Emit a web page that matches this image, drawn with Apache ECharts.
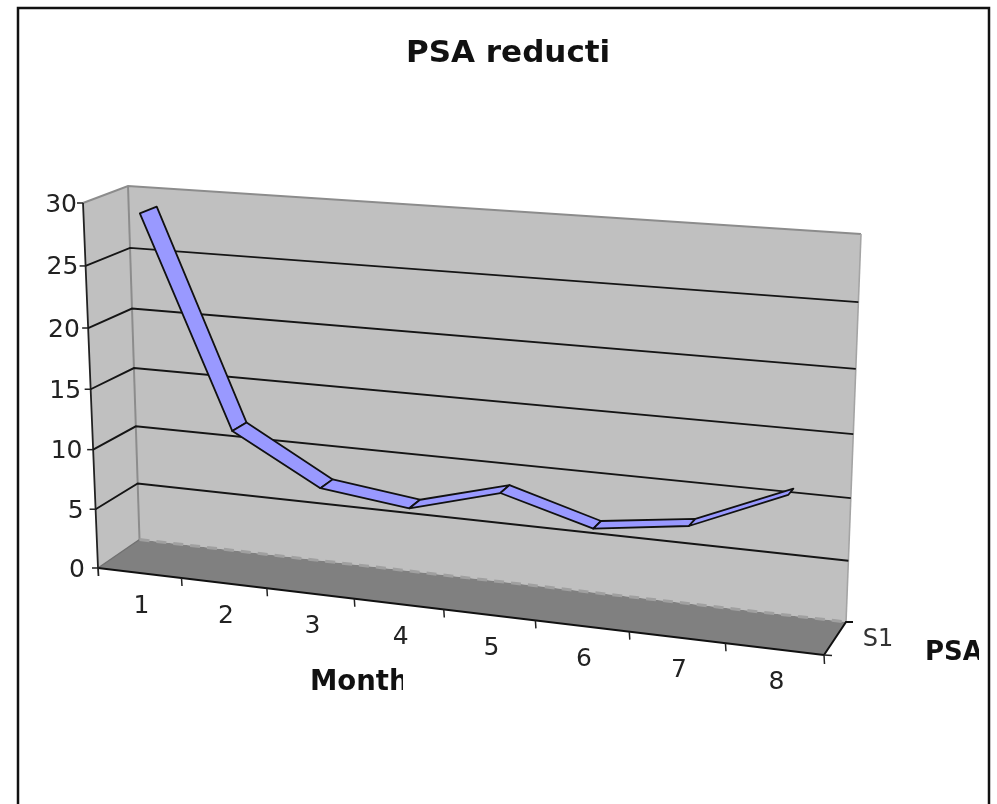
<!DOCTYPE html>
<html><head><meta charset="utf-8">
<style>html,body{margin:0;padding:0;background:#fff}#c{width:997px;height:804px}</style>
<script src="https://cdn.jsdelivr.net/npm/echarts@6/dist/echarts.min.js"></script>
</head><body><div id="c"></div>
<script>
const months = ['1','2','3','4','5','6','7','8'];
const psa = [29, 12, 8, 7.1, 9.1, 7, 8, 11.2];
const yTicks = [0,5,10,15,20,25,30];
const chartTitle = 'PSA reducti';
const xName = 'Month';
const yName = 'PSA';
const seriesName = 'S1';

const FONT = '"DejaVu Sans", sans-serif';
function makeH(q){
  const [x0,y0]=q[0],[x1,y1]=q[1],[x2,y2]=q[2],[x3,y3]=q[3];
  const dx1=x1-x2,dx2=x3-x2,sx=x0-x1+x2-x3,dy1=y1-y2,dy2=y3-y2,sy=y0-y1+y2-y3;
  const den=dx1*dy2-dx2*dy1;
  const g=(sx*dy2-dx2*sy)/den,h=(dx1*sy-sx*dy1)/den;
  const a=x1-x0+g*x1,b=x3-x0+h*x3,d=y1-y0+g*y1,e=y3-y0+h*y3;
  return (u,v)=>{const w=g*u+h*v+1;return [(a*u+b*v+x0)/w,(d*u+e*v+y0)/w];};
}
const front=makeH([[98,568],[824,655],[841,256],[83,203]]);
const back=makeH([[139.5,539.5],[846,622],[861,234],[128,186]]);
function P(u,v,z){
  const vb=v-0.025*v*(1-v);
  const f=front(u,v),b=back(u,vb);
  return [f[0]+(b[0]-f[0])*z,f[1]+(b[1]-f[1])*z];
}
function uv(pt,cs){return [(pt[0]-cs.x)/cs.width,(cs.y+cs.height-pt[1])/cs.height];}
const poly=(pts,style,z2)=>({type:'polygon',shape:{points:pts},style,z2:z2||0});
const line=(pts,stroke,lw,dash)=>({type:'polyline',shape:{points:pts},style:{stroke,lineWidth:lw,fill:'none',lineDash:dash||null}});
const text=(t,x,y,size,weight,align,fill,extra)=>Object.assign({type:'text',style:{text:t,x,y,fontFamily:FONT,fontSize:size,fontWeight:weight,align,verticalAlign:'middle',fill}},extra||{});

const shell=()=>({type:'group',children:[
  poly([P(0,0,1),P(1,0,1),P(1,1,1),P(0,1,1)],{fill:'#c0c0c0',stroke:'none'}),
  poly([P(0,0,0),P(0,0,1),P(0,1,1),P(0,1,0)],{fill:'#c0c0c0',stroke:'none'}),
  poly([P(0,0,0),P(1,0,0),P(1,0,1),P(0,0,1)],{fill:'#808080',stroke:'none'}),
  line([P(0,1,0),P(0,1,1),P(1,1,1)],'#8c8c8c',2),
  line([P(1,1,1),P(1,0,1)],'#a4a4a4',1.6),
  line([P(0,1,1),P(0,0,1)],'#8c8c8c',2),
  line([P(0,0,0),P(0,0,1)],'#707070',1.5),
  line([P(0,0,1),P(1,0,1)],'#a0a0a0',3,[10,7]),
  line([P(1,0,0),P(1,0,1),[853,622]],'#111',2),
  line([P(0,0,0),P(1,0,0)],'#111',2),
  line([P(0,1,0),P(0,0,0),[P(0,0,0)[0]+.5,P(0,0,0)[1]+8]],'#222',1.8),
  line([P(1,0,0),[P(1,0,0)[0]+.5,P(1,0,0)[1]+9]],'#222',1.5),
  line([P(1,0,0),[P(1,0,0)[0]+8,P(1,0,0)[1]+.5]],'#222',1.5)
]});

const option={
  animation:false,
  backgroundColor:'#fff',
  title:{text:chartTitle,left:406,top:38,padding:0,textStyle:{fontFamily:FONT,fontSize:31,fontWeight:'bold',color:'#111'}},
  grid:{left:100,top:100,width:700,height:500,show:false},
  xAxis:{type:'category',data:months,show:false},
  yAxis:{type:'value',min:0,max:30,interval:5,show:false},
  graphic:[{type:'rect',shape:{x:18,y:8,width:971,height:830},style:{fill:'none',stroke:'#111',lineWidth:2.5},z:100,silent:true}],
  series:[
    {type:'custom',silent:true,z:1,data:[[0,0]],encode:{x:0,y:1},renderItem:()=>shell()},
    {type:'custom',silent:true,z:2,data:yTicks.map(v=>[0,v]),encode:{x:0,y:1},renderItem:(p,api)=>{
      const v=api.value(1); const vv=uv(api.coord([0,v]),p.coordSys)[1];
      const f=P(0,vv,0); const kids=[line([[f[0]-6,f[1]],f],'#222',1.5)];
      if(v>0&&v<30) kids.push(line([f,P(0,vv,1),P(1,vv,1)],'#151515',1.9));
      kids.push(text(String(v),f[0]-6-(30-v)/30*7,f[1]+2,25,'normal','right','#222'));
      return {type:'group',children:kids};
    }},
    {type:'custom',silent:true,z:3,data:months.map((m,i)=>[i,0]),encode:{x:0,y:1},renderItem:(p,api)=>{
      const i=api.value(0); const c=uv(api.coord([i,0]),p.coordSys);
      const step=1/months.length;
      const kids=[];
      const e=P(c[0]+step/2,0,0);
      if(i<months.length-1) kids.push(line([e,[e[0]+.5,e[1]+8]],'#222',1.5));
      const q=P(c[0],0,0);
      kids.push(text(months[i],q[0]+2,q[1]+33.5,25,'normal','center','#222'));
      return {type:'group',children:kids};
    }},
    {name:yName,type:'custom',silent:true,z:4,data:psa.slice(0,-1).map((v,i)=>[i,v,i+1,psa[i+1]]),encode:{x:0,y:1},renderItem:(p,api)=>{
      const a=uv(api.coord([api.value(0),api.value(1)]),p.coordSys);
      const b=uv(api.coord([api.value(2),api.value(3)]),p.coordSys);
      const z0=u=>.30+.08*u, z1=u=>.70-.10*u;
      return poly([P(a[0],a[1],z0(a[0])),P(b[0],b[1],z0(b[0])),P(b[0],b[1],z1(b[0])),P(a[0],a[1],z1(a[0]))],{fill:'#9999ff',stroke:'#111',lineWidth:1.8,lineJoin:'round'});
    }},
    {type:'custom',silent:true,z:5,data:[[0,0]],encode:{x:0,y:1},renderItem:()=>({type:'group',children:[
      text(seriesName,878,640,24,'normal','center','#333'),
      text(yName,925,653,26,'bold','left','#111',{clipPath:{type:'rect',shape:{x:900,y:630,width:79,height:50}}}),
      text(xName,310,683,27.5,'bold','left','#111',{clipPath:{type:'rect',shape:{x:300,y:660,width:103,height:50}}})
    ]})}
  ]
};
const chart=echarts.init(document.getElementById('c'),null,{renderer:'canvas',width:997,height:804});
chart.setOption(option);
</script></body></html>
